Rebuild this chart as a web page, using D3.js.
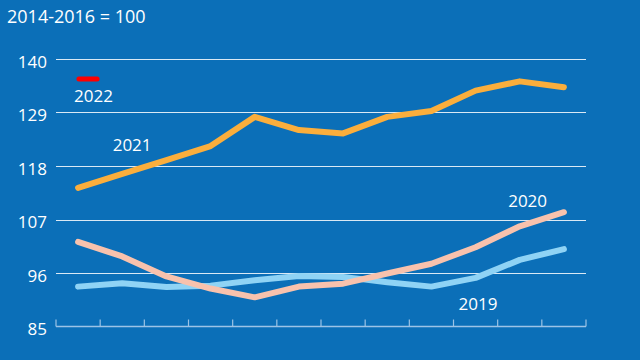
<!DOCTYPE html>
<html><head><meta charset="utf-8">
<script src="https://cdn.jsdelivr.net/npm/d3@7"></script>
<style>html,body{margin:0;padding:0;background:#0b6fb8;}svg{display:block;}</style>
</head><body>
<svg id="c" width="640" height="360"></svg>
<script>
const months = ["Jan","Feb","Mar","Apr","May","Jun","Jul","Aug","Sep","Oct","Nov","Dec"];
const yTicks = [85, 96, 107, 118, 129, 140];
const s2019 = [93.2, 93.9, 93.1, 93.4, 94.5, 95.4, 95.2, 94.1, 93.2, 95.0, 98.7, 100.9];
const s2020 = [102.4, 99.4, 95.3, 92.8, 91.0, 93.2, 93.8, 95.9, 97.9, 101.3, 105.6, 108.5];
const s2021 = [113.5, 116.4, 119.2, 122.1, 128.1, 125.4, 124.7, 128.1, 129.3, 133.5, 135.4, 134.2];
const s2022 = [135.9];
const title = "2014-2016 = 100";

const svg = d3.select("#c");
svg.append("rect").attr("width",640).attr("height",360).attr("fill","#0b6fb8");
const font = "'Open Sans', sans-serif";

const x = d3.scaleBand().domain(months).range([56, 586]).padding(0);
const y = d3.scaleLinear().domain([85, 140]).range([326.5, 59]);
const xc = m => x(m) + x.bandwidth()/2;

// gridlines
svg.append("g").selectAll("line").data(yTicks.slice(1)).join("line")
  .attr("x1", 56).attr("x2", 586)
  .attr("y1", d => Math.round(y(d))+0.5).attr("y2", d => Math.round(y(d))+0.5)
  .attr("stroke", "#ffffff").attr("stroke-opacity", 0.85).attr("stroke-width", 1);

// y labels
svg.append("g").selectAll("text").data(yTicks).join("text")
  .attr("x", 47).attr("y", d => y(d) + 3).attr("dy", "0.35em")
  .attr("text-anchor", "end").attr("fill", "#fff")
  .style("font-family", font).style("font-size", "17px").text(d => d);

// x axis with ticks at band edges
const axisCol = "#9cc3e6";
svg.append("line").attr("x1", 56).attr("x2", 586).attr("y1", 326.5).attr("y2", 326.5)
  .attr("stroke", axisCol).attr("stroke-width", 1.5);
const edges = months.map(m => x(m)).concat([x(months[11]) + x.bandwidth()]);
svg.append("g").selectAll("line").data(edges).join("line")
  .attr("x1", d => d).attr("x2", d => d).attr("y1", 326.5).attr("y2", 319.5)
  .attr("stroke", axisCol).attr("stroke-width", 1.2);

const line = d3.line().x((d,i) => xc(months[i])).y(d => y(d));
const series = [
  {data: s2019, color: "#8fd3f5"},
  {data: s2020, color: "#f8c2ad"},
  {data: s2021, color: "#fbae3c"}
];
svg.append("g").selectAll("path").data(series).join("path")
  .attr("d", d => line(d.data)).attr("fill", "none")
  .attr("stroke", d => d.color).attr("stroke-width", 6)
  .attr("stroke-linejoin", "round").attr("stroke-linecap", "round");

// 2022 single value as short dash
svg.append("line")
  .attr("x1", x(months[0]) + x.bandwidth()*0.52).attr("x2", x(months[0]) + x.bandwidth()*0.93)
  .attr("y1", y(s2022[0])).attr("y2", y(s2022[0]))
  .attr("stroke", "#ff0000").attr("stroke-width", 5).attr("stroke-linecap", "round");

// labels
const labels = [
  {t: "2022", xm: 0, dx: 18, v: s2022[0], dy: 22.7},
  {t: "2021", xm: 1, dx: 12.5, v: s2021[1], dy: -23},
  {t: "2020", xm: 10, dx: 10.5, v: s2020[11], dy: -5.5},
  {t: "2019", xm: 9, dx: 5, v: s2019[8], dy: 23.4}
];
svg.append("g").selectAll("text").data(labels).join("text")
  .attr("x", d => x(months[d.xm]) + d.dx).attr("y", d => y(d.v) + d.dy)
  .attr("fill", "#fff").style("font-family", font).style("font-size", "17px").text(d => d.t);

svg.append("text").attr("x", 7).attr("y", 23).attr("fill", "#fff")
  .style("font-family", font).style("font-size", "18px").text(title);
</script>
</body></html>
